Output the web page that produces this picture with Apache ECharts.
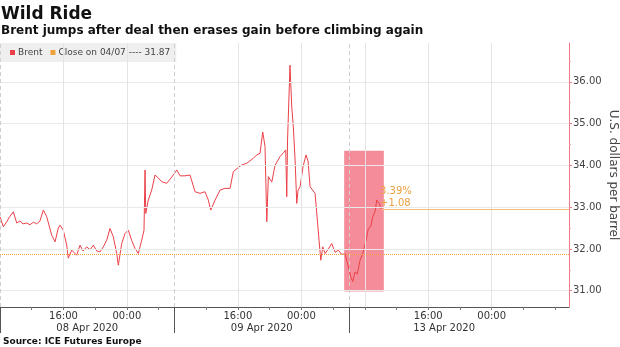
<!DOCTYPE html>
<html>
<head>
<meta charset="utf-8">
<script src="https://cdn.jsdelivr.net/npm/echarts@6/dist/echarts.min.js"></script>
<style>
html,body{margin:0;padding:0;background:#fff;}
#chart{width:620px;height:347px;}
</style>
</head>
<body>
<div id="chart"></div>
<script>
// ---- data (x = trading hours since 08 Apr 08:00 session open, sessions joined) ----
const hours = [0,0.42,0.84,1.26,1.68,2.11,2.52,2.90,3.37,3.78,4.20,4.63,5.04,5.46,5.89,6.52,6.94,7.35,7.57,7.98,8.41,8.61,9.04,9.67,10.09,10.47,10.93,11.35,11.77,12.20,12.61,13.03,13.46,13.87,14.29,14.72,14.92,15.35,15.77,16.18,16.61,17.03,17.44,17.87,18.16,18.29,18.38,18.70,19.13,19.55,19.96,20.39,21.02,21.86,22.29,22.70,23.33,23.96,24.59,25.22,25.85,26.27,26.57,27.12,27.75,28.38,29.01,29.42,30.05,30.48,31.11,31.95,32.37,32.79,33.13,33.42,33.64,33.84,34.27,34.68,35.31,35.73,36.03,36.16,36.26,36.57,36.79,36.99,37.21,37.42,37.58,37.84,38.21,38.59,38.85,39.10,39.31,39.73,39.98,40.23,40.45,40.70,40.99,41.41,41.83,42.25,42.67,43.09,43.51,43.93,44.23,44.48,44.77,45.06,45.40,45.74,46.16,46.45,46.75,47.00,47.29,47.51,47.84,48.05];
const prices = [32.77,32.53,32.65,32.78,32.89,32.62,32.67,32.60,32.62,32.58,32.64,32.60,32.67,32.93,32.77,32.33,32.17,32.50,32.57,32.45,32.09,31.78,31.97,31.85,32.09,31.95,32.05,31.98,32.09,31.95,31.93,32.05,32.21,32.49,32.29,31.89,31.61,32.13,32.37,32.45,32.20,32.01,31.89,32.21,32.45,33.89,32.85,33.17,33.41,33.77,33.70,33.61,33.57,33.77,33.89,33.75,33.75,33.77,33.37,33.33,33.37,33.17,32.93,33.17,33.41,33.45,33.45,33.85,33.95,34.01,34.05,34.17,34.25,34.29,34.80,34.45,32.65,33.73,33.60,34.00,34.21,34.30,34.37,33.25,34.61,36.40,35.40,34.92,34.13,33.09,33.40,33.49,33.97,34.25,34.10,33.49,33.45,33.33,32.77,32.21,31.73,32.05,31.89,32.00,32.13,31.92,31.97,31.87,31.88,31.57,31.33,31.22,31.45,31.40,31.73,31.89,32.21,32.49,32.53,32.77,32.89,33.17,33.09,32.95];
const closeValue = 31.87;
const closeLabel = 'Close on 04/07';
const seriesName = 'Brent';

// axis ticks & labels
const minorTickHours = [4,8,12,16,20,26,30,34,38,42,46,50,54,58,62,66,70];
const timeLabelHours = [8,16,30,38,54,62];
const timeLabels = ['16:00','00:00','16:00','00:00','16:00','00:00'];
const sessionBreaks = [0,22,44];
const dayLabelHours = [11,33,56];
const dayLabels = ['08 Apr 2020','09 Apr 2020','13 Apr 2020'];
const gridHours = [8,16,30,38,46,54,62];
const yTicks = [31,32,33,34,35,36];
const yMinorTicks = [30.5,31.5,32.5,33.5,34.5,35.5,36.5];

// highlighted window (pink box)
const highlightHours = [43.4, 48.4];
const highlightPrices = [30.98, 34.35];

const xMin = 0, xMax = 71.75, yMin = 30.61, yMax = 36.93;

const brentData = hours.map((h, i) => [h, prices[i]]);
const lastHour = hours[hours.length - 1];
const lastValue = prices[prices.length - 1];
const change = lastValue - closeValue;
const pct = change / closeValue * 100;

const FONT = 'DejaVu Sans';
const RED = '#ea4148';
const ORANGE = '#efa23a';

const chart = echarts.init(document.getElementById('chart'), null, {renderer: 'canvas'});

const option = {
  animation: false,
  backgroundColor: '#fff',
  textStyle: {fontFamily: FONT},
  title: [
    {text: 'Wild Ride', left: 1, top: 6, padding: 0, textStyle: {fontFamily: FONT, fontSize: 17, fontWeight: 'bold', color: '#111'}},
    {text: 'Brent jumps after deal then erases gain before climbing again', left: 1, top: 25, padding: 0, textStyle: {fontFamily: FONT, fontSize: 12, fontWeight: 'bold', color: '#111'}},
    {text: 'Source: ICE Futures Europe', left: 3, top: 337, padding: 0, textStyle: {fontFamily: FONT, fontSize: 9, fontWeight: 'bold', color: '#111'}}
  ],
  legend: {
    left: 0, top: 43,
    backgroundColor: '#efefef',
    padding: [5, 6, 5, 10],
    itemGap: 8,
    itemWidth: 5, itemHeight: 5,
    textStyle: {fontFamily: FONT, fontSize: 9, color: '#444', padding: [0, 0, 0, -2]},
    data: [
      {name: seriesName, icon: 'rect', itemStyle: {color: RED}},
      {name: closeLabel, icon: 'rect', itemStyle: {color: ORANGE}}
    ],
    formatter: function (name) {
      return name === closeLabel ? name + ' ---- ' + closeValue.toFixed(2) : name;
    }
  },
  grid: {left: 0, right: 51, top: 43, bottom: 40, outerBoundsMode: 'none', containLabel: false},
  xAxis: [
    {
      type: 'value', min: xMin, max: xMax,
      axisLine: {show: true, onZero: false, lineStyle: {color: '#555', width: 1}},
      axisTick: {show: true, customValues: minorTickHours, length: 3, lineStyle: {color: '#777'}},
      axisLabel: {
        show: true, customValues: timeLabelHours, margin: 4,
        fontFamily: FONT, fontSize: 10, color: '#333',
        formatter: function (v) { const i = timeLabelHours.indexOf(v); return i >= 0 ? timeLabels[i] : ''; }
      },
      splitLine: {show: false}
    },
    {
      type: 'value', min: xMin, max: xMax, position: 'bottom',
      axisLine: {show: false, onZero: false},
      axisTick: {show: true, customValues: sessionBreaks, length: 26, lineStyle: {color: '#555', width: 1}},
      axisLabel: {
        show: true, customValues: dayLabelHours, margin: 16,
        fontFamily: FONT, fontSize: 10, color: '#333',
        formatter: function (v) { const i = dayLabelHours.indexOf(v); return i >= 0 ? dayLabels[i] : ''; }
      },
      splitLine: {show: false}
    }
  ],
  yAxis: [
    {
      type: 'value', position: 'right', min: yMin, max: yMax,
      name: 'U.S. dollars per barrel', nameLocation: 'middle', nameRotate: -90, nameGap: 38,
      nameMoveOverlap: false,
      nameTextStyle: {fontFamily: FONT, fontSize: 12, color: '#444'},
      axisLine: {show: true, onZero: false, lineStyle: {color: '#f07c86', width: 1}},
      axisTick: {show: true, customValues: yTicks, length: 3, lineStyle: {color: '#f07c86'}},
      axisLabel: {
        show: true, customValues: yTicks, margin: 4,
        fontFamily: FONT, fontSize: 10, color: '#444',
        formatter: function (v) { return v.toFixed(2); }
      },
      splitLine: {show: false}
    },
    {
      type: 'value', position: 'right', min: yMin, max: yMax,
      axisLine: {show: false, onZero: false},
      axisTick: {show: true, customValues: yMinorTicks, length: 2, lineStyle: {color: '#f4a0a8'}},
      axisLabel: {show: false},
      splitLine: {show: false}
    }
  ],
  series: [
    {
      name: 'grid', type: 'line', data: [], silent: true, z: 0,
      markLine: {
        silent: true, symbol: 'none', animation: false,
        label: {show: false},
        data: [
          ...yTicks.map(v => ({yAxis: v, lineStyle: {color: '#e9e9e9', width: 1, type: 'solid'}})),
          ...gridHours.map(v => ({xAxis: v, lineStyle: {color: '#e4e4e4', width: 1, type: 'solid'}})),
          ...sessionBreaks.map(v => ({xAxis: v, lineStyle: {color: '#cfcfcf', width: 1, type: [4, 3]}}))
        ]
      }
    },
    {
      name: closeLabel, type: 'line', data: [], z: 1,
      itemStyle: {color: ORANGE}, lineStyle: {color: ORANGE},
      markLine: {
        silent: true, symbol: 'none', animation: false,
        label: {show: false},
        data: [
          {yAxis: closeValue, lineStyle: {color: ORANGE, width: 1, type: [1, 1]}},
          [
            {coord: [lastHour, lastValue], lineStyle: {color: '#f3bf78', width: 1, type: 'solid'}},
            {coord: [xMax, lastValue]}
          ]
        ]
      }
    },
    {
      name: seriesName, type: 'line', data: brentData, z: 3,
      showSymbol: false, symbol: 'none',
      lineStyle: {color: RED, width: 1},
      itemStyle: {color: RED},
      markArea: {
        silent: true,
        itemStyle: {color: 'rgba(238,70,92,0.62)'},
        data: [[
          {coord: [highlightHours[0], highlightPrices[1]]},
          {coord: [highlightHours[1], highlightPrices[0]]}
        ]]
      },
      markPoint: {
        silent: true, symbol: 'circle', symbolSize: 0,
        data: [{
          coord: [lastHour, lastValue],
          label: {
            show: true,
            position: [-1, -24],
            align: 'left', verticalAlign: 'top',
            fontFamily: FONT, fontSize: 10, lineHeight: 12, color: '#e9a040',
            formatter: pct.toFixed(2) + '%\n+' + change.toFixed(2)
          }
        }]
      }
    }
  ]
};
chart.setOption(option);
</script>
</body>
</html>
